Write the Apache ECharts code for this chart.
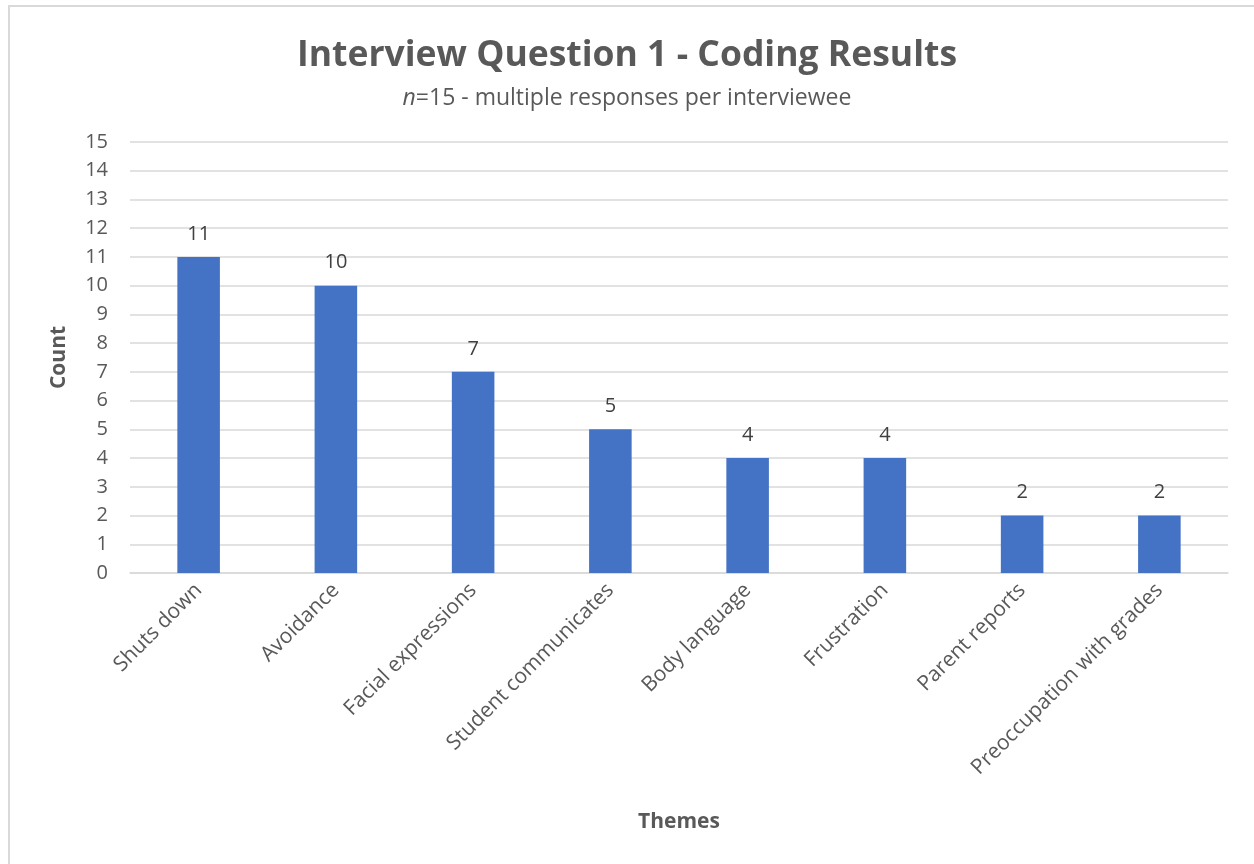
<!DOCTYPE html>
<html><head><meta charset="utf-8">
<script src="https://cdn.jsdelivr.net/npm/echarts@6/dist/echarts.min.js"></script>
<style>html,body{margin:0;padding:0;background:#fff}#c{width:1254px;height:864px}</style>
</head><body><div id="c"></div>
<script>
const categories = ["Shuts down","Avoidance","Facial expressions","Student communicates","Body language","Frustration","Parent reports","Preoccupation with grades"];
const counts = [11,10,7,5,4,4,2,2];
const FONT = '"Open Sans", Lato, sans-serif';
const chart = echarts.init(document.getElementById('c'), null, {renderer:'canvas'});
chart.setOption({
  backgroundColor:'#fff',
  animation:false,
  graphic:[{type:'rect',shape:{x:9,y:6,width:1400,height:1000},style:{fill:'none',stroke:'#d9d9d9',lineWidth:2},silent:true,z:-1}],
  title:{
    text:'Interview Question 1 - Coding Results',
    subtext:'{i|n}=15 - multiple responses per interviewee',
    left:'center', top:33, itemGap:13,
    textStyle:{fontFamily:FONT,fontSize:35.5,fontWeight:'bold',color:'#595959'},
    subtextStyle:{fontFamily:FONT,fontSize:23,color:'#595959',rich:{i:{fontStyle:'italic',fontFamily:FONT,fontSize:23,color:'#595959'}}}
  },
  grid:{left:130,right:26,top:142,bottom:291,containLabel:false},
  xAxis:{
    type:'category', data:categories,
    name:'Themes', nameLocation:'middle', nameGap:239,
    nameTextStyle:{fontFamily:FONT,fontSize:21,fontWeight:'bold',color:'#595959'},
    axisLine:{lineStyle:{color:'#d9d9d9',width:1.5}},
    axisTick:{show:false},
    axisLabel:{rotate:45,fontFamily:FONT,fontSize:21,color:'#595959',margin:14,interval:0}
  },
  yAxis:{
    type:'value', min:0, max:15, interval:1,
    name:'Count', nameLocation:'middle', nameGap:60,
    nameTextStyle:{fontFamily:FONT,fontSize:21,fontWeight:'bold',color:'#595959'},
    axisLine:{show:false}, axisTick:{show:false},
    axisLabel:{fontFamily:FONT,fontSize:20,color:'#595959',margin:22},
    splitLine:{lineStyle:{color:'#d9d9d9',width:1.5}}
  },
  series:[{
    type:'bar', data:counts, barWidth:'31%',
    itemStyle:{color:'#4472c4'},
    label:{show:true,position:'top',distance:13,fontFamily:FONT,fontSize:20,color:'#404040'}
  }]
});
</script></body></html>
